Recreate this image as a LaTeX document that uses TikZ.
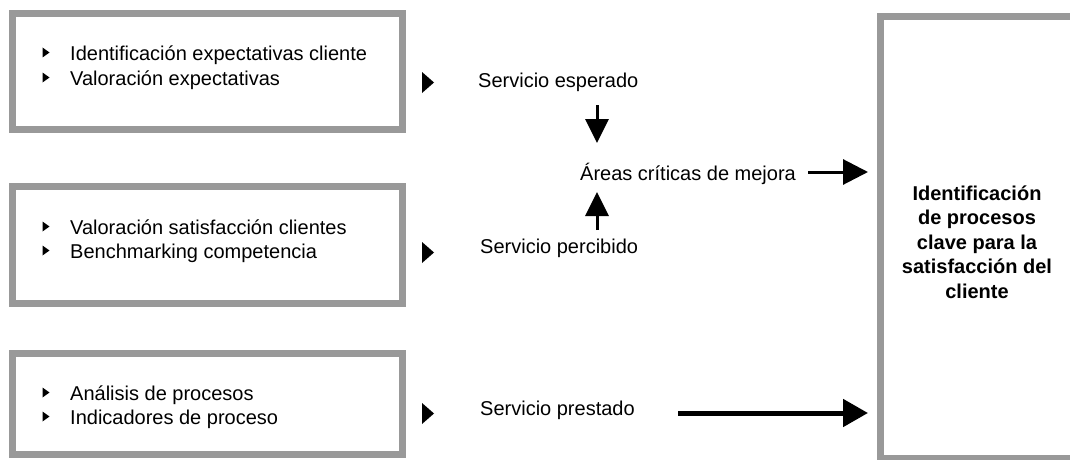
\documentclass[tikz,border=0pt]{standalone}
\usepackage{fontspec}
\setmainfont{Liberation Sans}
\usetikzlibrary{arrows.meta}
\definecolor{boxgray}{HTML}{999999}
\begin{document}
\begin{tikzpicture}[x=1pt,y=-1pt,
  gbox/.style={draw=boxgray, line width=7pt, inner sep=0pt, fill=white},
  itemtxt/.style={anchor=base west, inner sep=0pt, font=\fontsize{20}{25}\selectfont},
  lbl/.style={anchor=base west, inner sep=0pt, font=\fontsize{20}{25}\selectfont},
  bul/.pic={\fill (-3.5,-5) -- (3.5,0) -- (-3.5,5) -- cycle;},
  bigtri/.pic={\fill (-6,-10.5) -- (6,0) -- (-6,10.5) -- cycle;},
  conn/.style={line width=3pt, -{Triangle[length=24pt,width=23pt]}},
  connthick/.style={line width=5pt, -{Triangle[length=25pt,width=27pt]}}
]
\useasboundingbox (0,0) rectangle (1070,460);
\fill[white] (0,0) rectangle (1070,460);

% boxes
\node[gbox, minimum width=390.5pt, minimum height=116pt] (b1) at (207.25,71.5) {};
\node[gbox, minimum width=390pt, minimum height=117pt] (b2) at (207.5,245) {};
\node[gbox, minimum width=390pt, minimum height=101pt] (b3) at (207.5,404) {};
\node[gbox, minimum width=199.5pt, minimum height=442pt] (key) at (980.25,237.5) {};

% box 1 items
\pic at (46,52.5) {bul};
\node[itemtxt] (i11) at (70,60) {Identificación expectativas cliente};
\pic at (46,77.5) {bul};
\node[itemtxt] (i12) at (70,85) {Valoración expectativas};

% box 2 items
\pic at (46,226.5) {bul};
\node[itemtxt] (i21) at (70,234) {Valoración satisfacción clientes};
\pic at (46,250.5) {bul};
\node[itemtxt] (i22) at (70,258) {Benchmarking competencia};

% box 3 items
\pic at (46,392.5) {bul};
\node[itemtxt] (i31) at (70,400) {Análisis de procesos};
\pic at (46,416.5) {bul};
\node[itemtxt] (i32) at (70,424) {Indicadores de proceso};

% big triangles
\pic at (428,82.5) {bigtri};
\pic at (428,252.5) {bigtri};
\pic at (428,413.5) {bigtri};

% labels
\node[lbl] (esp) at (478,88) {Servicio esperado};
\node[lbl] (areas) at (580,180) {Áreas críticas de mejora};
\node[lbl] (perc) at (480,253) {Servicio percibido};
\node[lbl] (prest) at (480,415) {Servicio prestado};

% key text
\node[font=\fontsize{20}{24.5}\selectfont\bfseries, align=center, inner sep=0pt] (keytxt) at (977,242) {Identificación\\de procesos\\clave para la\\satisfacción del\\cliente};

% arrows
\coordinate (dS) at (597,105);
\coordinate (dE) at (597,143);
\coordinate (uS) at (597,230);
\coordinate (uE) at (597,192);
\coordinate (aS) at (808,172);
\coordinate (aE) at (868,172);
\coordinate (pS) at (678,413);
\coordinate (pE) at (868,413);
\draw[conn] (dS) -- (dE);
\draw[conn] (uS) -- (uE);
\draw[conn, -{Triangle[length=25pt,width=25pt]}] (aS) -- (aE);
\draw[connthick] (pS) -- (pE);
\end{tikzpicture}
\end{document}
